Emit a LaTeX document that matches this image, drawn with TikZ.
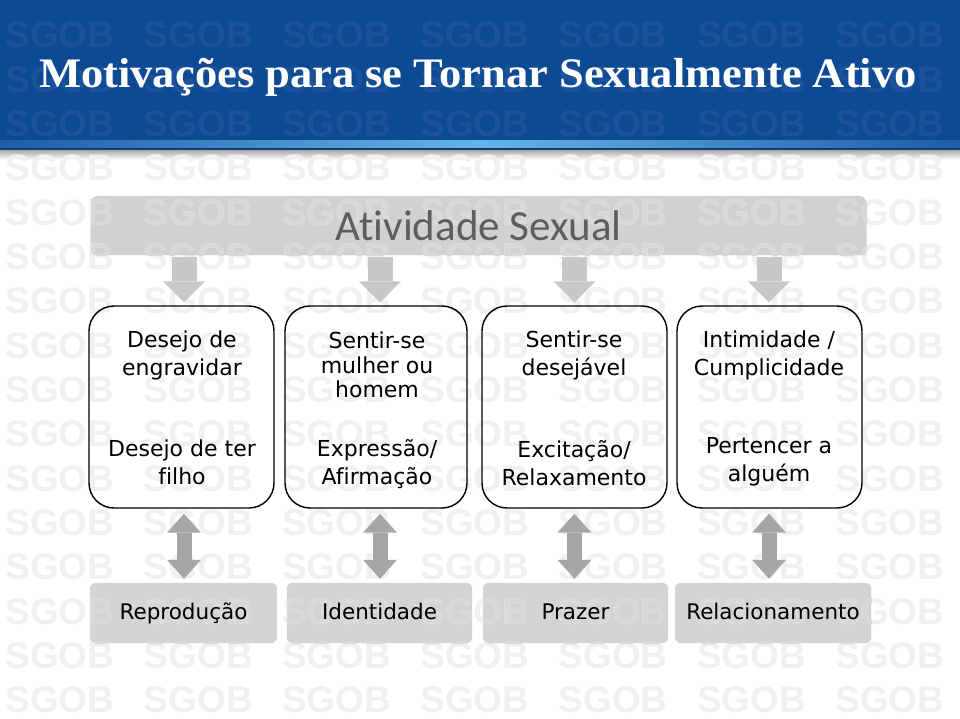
\documentclass[tikz,border=0pt]{standalone}
\usepackage{fontspec}
\setmainfont[Ligatures=NoCommon]{DejaVu Sans}
\newfontfamily\titlefont{Liberation Serif}
\newfontfamily\barfont[Ligatures=NoCommon]{Carlito}
\newfontfamily\wmfont{Liberation Sans Bold}
\usetikzlibrary{arrows.meta}
\definecolor{banner}{HTML}{0D4A93}
\definecolor{bandlight}{HTML}{62B6EA}
\definecolor{banddark}{HTML}{1E5CA4}
\definecolor{bandline}{HTML}{123C74}
\definecolor{barfill}{HTML}{D1D1D1}
\definecolor{catfill}{HTML}{D4D4D4}
\definecolor{arrlight}{HTML}{C8C8C8}
\definecolor{arrdark}{HTML}{A6A6A6}
\definecolor{bartext}{HTML}{5E5E5E}
\definecolor{wmblue}{HTML}{1A5399}
\definecolor{wmwhite}{HTML}{F0F0F0}
\definecolor{wmgray}{HTML}{D9D9D9}
\tikzset{
  wmbase/.style={font=\wmfont\fontsize{37}{37}\selectfont, inner sep=0},
  motbox/.style={draw=black, line width=1.4pt, rounded corners=25pt, minimum width=185pt, minimum height=202pt, inner sep=0},
  boxtext/.style={font=\fontsize{22}{28}\selectfont, align=center, text=black, inner sep=0},
  boxtextb/.style={font=\fontsize{22}{24.5}\selectfont, align=center, text=black, inner sep=0},
  catshape/.style={minimum height=60pt, inner sep=0},
  cattext/.style={inner sep=0, text height=16pt, text depth=4pt, font=\fontsize{21.5}{24}\selectfont, text=black},
  downarr/.style={draw=arrlight, line width=25pt, shorten <=2pt, shorten >=3pt, -{Triangle[width=42pt,length=21pt,line width=0pt]}},
  dblarr/.style={draw=arrdark, line width=15pt, shorten <=5pt, shorten >=4pt, {Triangle[width=34pt,length=19pt,line width=0pt]}-{Triangle[width=34pt,length=19pt,line width=0pt]}}
}
\begin{document}
\begin{tikzpicture}[x=1pt,y=-1pt]
\useasboundingbox (0,0) rectangle (960,719);

% background
\fill[white] (0,0) rectangle (960,719);
\fill[banner] (0,0) rectangle (960,141);
\shade[left color=banddark, right color=banddark, middle color=bandlight] (0,141) rectangle (960,148);
\fill[bandline] (0,148) rectangle (960,151);
\shade[top color=black!30, bottom color=white] (0,151) rectangle (960,160);

% grey bars
\node[minimum width=776pt, minimum height=59pt, inner sep=0] (bar) at (478.5,225.5) {};
\node[catshape, minimum width=187pt] (r1) at (183.5,613) {};
\node[catshape, minimum width=185pt] (r2) at (379.5,613) {};
\node[catshape, minimum width=185pt] (r3) at (575.5,613) {};
\node[catshape, minimum width=196pt] (r4) at (773,613) {};
\fill[barfill, rounded corners=8pt] (bar.north west) rectangle (bar.south east);
\fill[catfill, rounded corners=6pt] (r1.north west) rectangle (r1.south east);
\fill[catfill, rounded corners=6pt] (r2.north west) rectangle (r2.south east);
\fill[catfill, rounded corners=6pt] (r3.north west) rectangle (r3.south east);
\fill[catfill, rounded corners=6pt] (r4.north west) rectangle (r4.south east);

% watermark
\foreach \r in {0,1,2} {
  \foreach \c in {0,...,6} {
    \node[wmbase, text=wmblue] (wm-\r-\c) at ({60+138.3*\c},{35+44.33*\r}) {SGOB};
  }
}
\foreach \r in {3,...,15} {
  \foreach \c in {0,...,6} {
    \node[wmbase, text=wmwhite] (wm-\r-\c) at ({60+138.3*\c},{35+44.33*\r}) {SGOB};
  }
}
\begin{scope}
\clip[rounded corners=6pt] (bar.north west) rectangle (bar.south east)
  (r1.north west) rectangle (r1.south east)
  (r2.north west) rectangle (r2.south east)
  (r3.north west) rectangle (r3.south east)
  (r4.north west) rectangle (r4.south east);
\foreach \r in {4,5,13,14} {
  \foreach \c in {0,...,6} {
    \node[wmbase, text=wmgray] (wmg-\r-\c) at ({60+138.3*\c},{35+44.33*\r}) {SGOB};
  }
}
\end{scope}

% title
\node[anchor=base, text=white, font=\titlefont\bfseries\fontsize{42}{42}\selectfont, inner sep=0] (title) at (478,88) {\scalebox{1.06}[1]{Motivações para se Tornar Sexualmente Ativo}};

% top bar label
\node[inner sep=0, text=bartext, font=\barfont\fontsize{43}{43}\selectfont] (barlabel) at (bar.center) {Atividade Sexual};

% motivation boxes
\node[motbox] (b1) at (181.5,407) {};
\node[motbox, minimum width=182pt] (b2) at (376,407) {};
\node[motbox] (b3) at (574.5,407) {};
\node[motbox] (b4) at (769.5,407) {};

\node[boxtext] (t1a) at (182,355) {Desejo de\\engravidar};
\node[boxtext] (t1b) at (182,462) {Desejo de ter\\filho};
\node[boxtextb] (t2a) at (377,365) {Sentir-se\\mulher ou\\homem};
\node[boxtext] (t2b) at (377,464) {Expressão/\\Afirmação};
\node[boxtext] (t3a) at (574,355) {Sentir-se\\desejável};
\node[boxtext] (t3b) at (574,463) {Excitação/\\Relaxamento};
\node[boxtext] (t4a) at (769,355) {Intimidade /\\Cumplicidade};
\node[boxtext] (t4b) at (769,462) {Pertencer a\\alguém};

% category labels
\node[cattext] (c1) at (r1.center) {Reprodução};
\node[cattext] (c2) at (r2.center) {Identidade};
\node[cattext] (c3) at (r3.center) {Prazer};
\node[cattext] (c4) at (r4.center) {Relacionamento};

% arrows
\coordinate (x1) at (184,0);
\coordinate (x2) at (380,0);
\coordinate (x3) at (574.5,0);
\coordinate (x4) at (769,0);
\draw[downarr] (x1 |- bar.south) -- (x1 |- b1.north);
\draw[downarr] (x2 |- bar.south) -- (x2 |- b2.north);
\draw[downarr] (x3 |- bar.south) -- (x3 |- b3.north);
\draw[downarr] (x4 |- bar.south) -- (x4 |- b4.north);
\draw[dblarr] (x1 |- b1.south) -- (x1 |- r1.north);
\draw[dblarr] (x2 |- b2.south) -- (x2 |- r2.north);
\draw[dblarr] (x3 |- b3.south) -- (x3 |- r3.north);
\draw[dblarr] (x4 |- b4.south) -- (x4 |- r4.north);
\end{tikzpicture}
\end{document}
